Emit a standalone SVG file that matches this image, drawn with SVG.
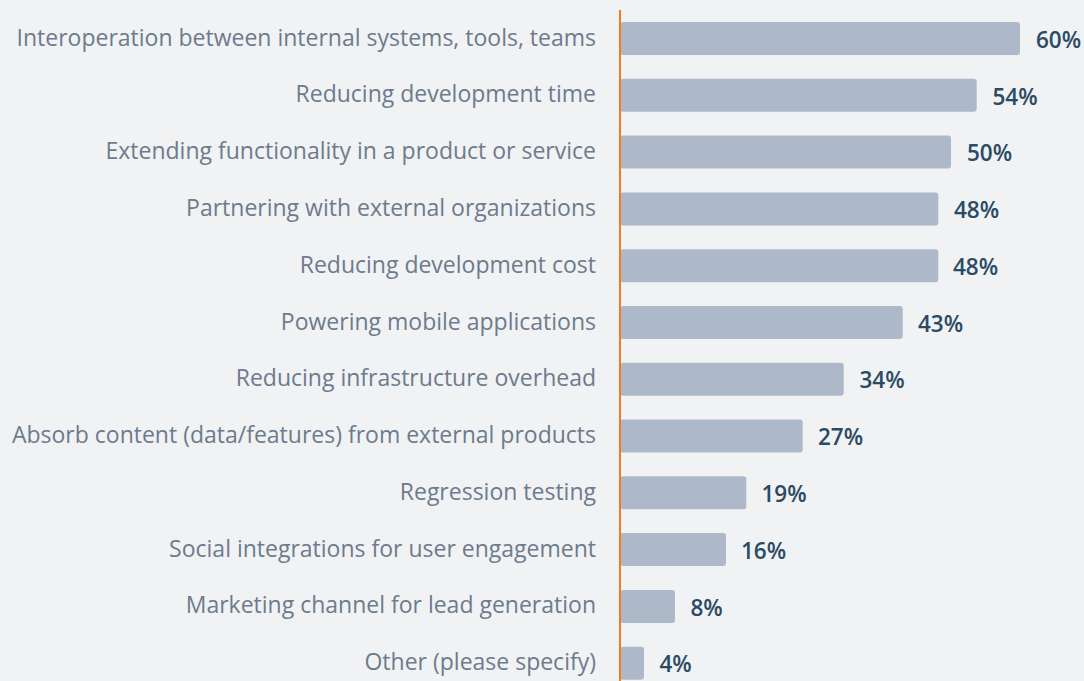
<svg xmlns="http://www.w3.org/2000/svg" width="1084" height="681" viewBox="0 0 1084 681">
<style>
.lbl{font-family:"Open Sans","Noto Sans",sans-serif;font-size:23px;fill:#6d7b8d;text-anchor:end}
.val{font-family:"Open Sans","Noto Sans",sans-serif;font-size:22.5px;font-weight:600;fill:#2b4b65}
.bar{fill:#adb9c8}
</style>
<rect width="1084" height="681" fill="#f0f2f4"/>
<g id="n1"><rect class="bar" x="620" y="22" width="400" height="33" rx="3"/><text class="lbl" x="596" y="45.5">Interoperation between internal systems, tools, teams</text><text class="val" x="1036" y="47.7">60%</text></g>
<g id="n2"><rect class="bar" x="620" y="78.8" width="356.7" height="33" rx="3"/><text class="lbl" x="596" y="102.3">Reducing development time</text><text class="val" x="992.5" y="104.5">54%</text></g>
<g id="n3"><rect class="bar" x="620" y="135.6" width="331" height="33" rx="3"/><text class="lbl" x="596" y="159.1">Extending functionality in a product or service</text><text class="val" x="967" y="161.3">50%</text></g>
<g id="n4"><rect class="bar" x="620" y="192.4" width="318.3" height="33" rx="3"/><text class="lbl" x="596" y="215.9">Partnering with external organizations</text><text class="val" x="954" y="218.1">48%</text></g>
<g id="n5"><rect class="bar" x="620" y="249.2" width="318.3" height="33" rx="3"/><text class="lbl" x="596" y="272.7">Reducing development cost</text><text class="val" x="953" y="274.9">48%</text></g>
<g id="n6"><rect class="bar" x="620" y="306" width="282.7" height="33" rx="3"/><text class="lbl" x="596" y="329.5">Powering mobile applications</text><text class="val" x="918" y="331.7">43%</text></g>
<g id="n7"><rect class="bar" x="620" y="362.7" width="223.7" height="33" rx="3"/><text class="lbl" x="596" y="386.2">Reducing infrastructure overhead</text><text class="val" x="859.5" y="388.4">34%</text></g>
<g id="n8"><rect class="bar" x="620" y="419.5" width="182.7" height="33" rx="3"/><text class="lbl" x="596" y="443">Absorb content (data/features) from external products</text><text class="val" x="818" y="445.2">27%</text></g>
<g id="n9"><rect class="bar" x="620" y="476.3" width="126.3" height="33" rx="3"/><text class="lbl" x="596" y="499.8">Regression testing</text><text class="val" x="761.5" y="502">19%</text></g>
<g id="n10"><rect class="bar" x="620" y="533.1" width="106" height="33" rx="3"/><text class="lbl" x="596" y="556.6">Social integrations for user engagement</text><text class="val" x="741" y="558.8">16%</text></g>
<g id="n11"><rect class="bar" x="620" y="589.9" width="55" height="33" rx="3"/><text class="lbl" x="596" y="613.4">Marketing channel for lead generation</text><text class="val" x="690.5" y="615.6">8%</text></g>
<g id="n12"><rect class="bar" x="620" y="646.7" width="24" height="33" rx="3"/><text class="lbl" x="596" y="670.2">Other (please specify)</text><text class="val" x="659.5" y="672.4">4%</text></g>
<g id="connectors"><line x1="620" y1="10" x2="620" y2="681" stroke="#f47b20" stroke-width="2"/></g>
</svg>
